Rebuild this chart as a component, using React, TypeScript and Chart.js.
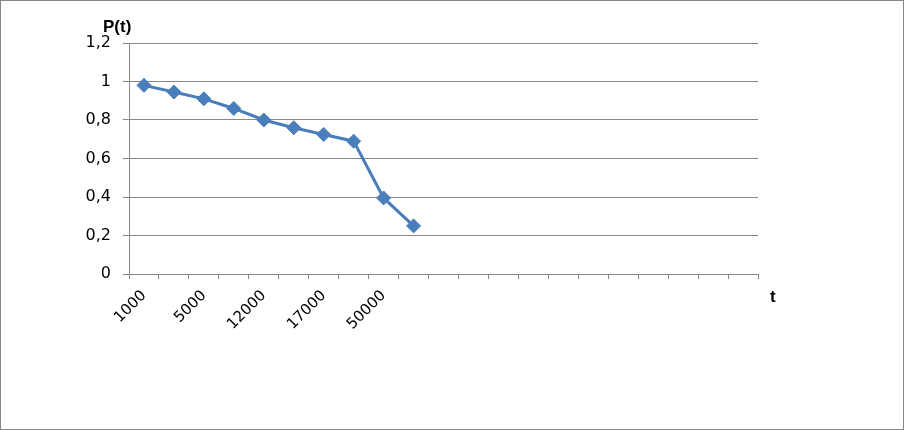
import React, { useEffect, useRef } from "react";
import { Chart, registerables } from "chart.js";

Chart.register(...registerables);

// Category labels (21 category slots on the axis; only every other labelled slot shows text)
const categories: string[] = [
  "1000", "", "5000", "", "12000", "", "17000", "", "50000", "",
  "", "", "", "", "", "", "", "", "", "", "",
];
// P(t) values
const pValues: number[] = [0.98, 0.945, 0.91, 0.86, 0.8, 0.76, 0.725, 0.69, 0.395, 0.25];
const yTicks: number[] = [0, 0.2, 0.4, 0.6, 0.8, 1, 1.2];
const yTitle = "P(t)";
const xTitle = "t";

const LINE_BLUE = "#4a7ebb";
const GRID = "#878787";
const FONT = "'DejaVu Sans', sans-serif";
const TITLE_FONT = "'Liberation Sans', Arial, sans-serif";

export default function App() {
  const ref = useRef<HTMLCanvasElement | null>(null);

  useEffect(() => {
    document.body.style.margin = "0";
    const canvas = ref.current;
    if (!canvas) return;

    const decor = {
      id: "decor",
      beforeDraw(chart: any) {
        const ctx = chart.ctx;
        ctx.save();
        ctx.fillStyle = "#ffffff";
        ctx.fillRect(0, 0, chart.width, chart.height);
        ctx.restore();
      },
      afterDraw(chart: any) {
        const ctx = chart.ctx;
        const area = chart.chartArea;
        ctx.save();
        ctx.strokeStyle = "#868686";
        ctx.lineWidth = 1;
        ctx.strokeRect(0.5, 0.5, chart.width - 1, chart.height - 1);
        ctx.fillStyle = "#000000";
        ctx.font = `bold 17px ${TITLE_FONT}`;
        ctx.textBaseline = "middle";
        ctx.textAlign = "left";
        ctx.fillText(yTitle, area.left - 26, 27);
        ctx.fillText(xTitle, area.right + 12, area.bottom + 23);
        ctx.restore();
      },
    };

    const chart = new Chart(canvas, {
      type: "line",
      data: {
        labels: categories,
        datasets: [
          {
            data: pValues,
            borderColor: LINE_BLUE,
            backgroundColor: LINE_BLUE,
            borderWidth: 3,
            pointStyle: "rectRot",
            pointRadius: 7,
            pointBorderWidth: 1,
            pointBorderColor: LINE_BLUE,
            pointBackgroundColor: LINE_BLUE,
            tension: 0,
          },
        ],
      },
      options: {
        animation: false,
        responsive: false,
        maintainAspectRatio: false,
        layout: { padding: { left: 0, right: 146, top: 43, bottom: 0 } },
        plugins: {
          legend: { display: false },
          tooltip: { enabled: false },
        },
        scales: {
          x: {
            type: "category",
            offset: true,
            grid: {
              offset: true,
              drawOnChartArea: false,
              drawTicks: true,
              tickLength: 5,
              color: GRID,
            },
            border: { display: true, color: GRID, width: 1 },
            ticks: {
              autoSkip: false,
              maxRotation: 45,
              minRotation: 45,
              color: "#000000",
              font: { family: FONT, size: 15 },
              padding: 8,
            },
            afterFit(scale: any) {
              scale.height = 156;
            },
          },
          y: {
            min: 0,
            max: 1.2,
            afterBuildTicks(scale: any) {
              scale.ticks = yTicks.map((v) => ({ value: v }));
            },
            grid: {
              color: GRID,
              drawTicks: true,
              tickLength: 6,
              lineWidth: 1,
            },
            border: { display: true, color: GRID, width: 1 },
            ticks: {
              color: "#000000",
              font: { family: FONT, size: 16 },
              padding: 12,
              callback: (v: any) => String(Number(v).toFixed(1)).replace(/\.0$/, "").replace(".", ","),
            },
            afterFit(scale: any) {
              scale.width = 129;
            },
          },
        },
      },
      plugins: [decor],
    });

    return () => chart.destroy();
  }, []);

  return (
    <div style={{ position: "absolute", left: 0, top: 0, width: 904, height: 430 }}>
      <canvas ref={ref} width={904} height={430} style={{ display: "block", width: 904, height: 430 }} />
    </div>
  );
}
